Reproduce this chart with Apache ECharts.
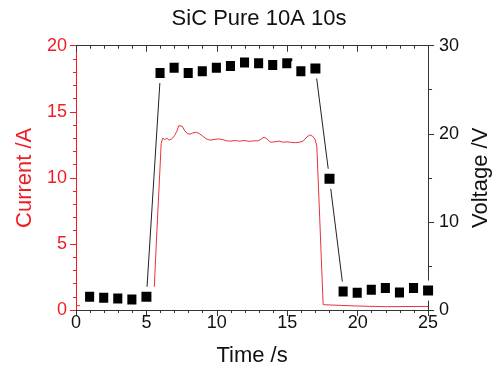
<!DOCTYPE html>
<html>
<head>
<meta charset="utf-8">
<script src="https://cdn.jsdelivr.net/npm/echarts@6/dist/echarts.min.js"></script>
<style>html,body{margin:0;padding:0;background:#fff}#c{width:500px;height:372px}</style>
</head>
<body>
<div id="c"></div>
<script>
const titleText = 'SiC Pure 10A 10s';
const xName = 'Time /s';
const yLeftName = 'Current /A';
const yRightName = 'Voltage /V';

// Voltage (scatter + line), one point per second
const voltTime = [1,2,3,4,5,6,7,8,9,10,11,12,13,14,15,16,17,18,19,20,21,22,23,24,25];
const voltValues = [1.5,1.4,1.3,1.2,1.5,26.9,27.5,26.9,27.1,27.5,27.7,28.1,28.0,27.8,28.0,27.1,27.4,14.9,2.1,1.95,2.3,2.5,2.0,2.5,2.2];

// Current trace
const curTime = [0,2,4,5.5,5.55,5.7,6.05,6.15,6.3,6.45,6.6,6.8,7.0,7.15,7.3,7.42,7.55,7.7,7.9,8.1,8.3,8.55,8.75,9.0,9.25,9.5,9.8,10.1,10.4,10.7,11.0,11.3,11.6,12.0,12.3,12.6,12.9,13.1,13.35,13.55,13.8,14.1,14.4,14.7,15.0,15.3,15.6,15.9,16.15,16.4,16.6,16.8,16.98,17.1,17.3,17.55,17.6,20,22,25];
const curValues = [0.33,0.33,0.32,0.33,0.35,5.0,12.6,13.0,12.9,13.0,12.85,12.95,13.2,13.5,13.95,14.1,13.9,13.6,13.35,13.3,13.4,13.45,13.35,13.15,12.95,12.85,12.9,12.95,12.9,12.8,12.78,12.82,12.78,12.82,12.76,12.8,12.8,12.9,13.08,12.95,12.7,12.72,12.78,12.7,12.72,12.68,12.66,12.7,12.8,13.1,13.25,13.15,12.9,12.4,7.1,0.4,0.28,0.3,0.25,0.27];

const RED = '#ee1c25';
const DARK = '#333333';
const FONT = '"Liberation Sans", Arial, sans-serif';

const chart = echarts.init(document.getElementById('c'), null, {renderer: 'canvas'});
chart.setOption({
  animation: false,
  backgroundColor: '#fff',
  title: {
    text: titleText, left: 254, top: 3, textAlign: 'center',
    textStyle: {fontFamily: FONT, fontSize: 22, fontWeight: 'normal', color: '#111'}
  },
  grid: {left: 76, right: 62.5, top: 45.7, bottom: 60.3, containLabel: false},
  xAxis: [{
    type: 'value', min: 0, max: 25, interval: 5, position: 'bottom',
    name: xName, nameLocation: 'middle', nameGap: 35,
    nameTextStyle: {fontFamily: FONT, fontSize: 22, color: '#111'},
    axisLine: {show: true, onZero: false, lineStyle: {color: DARK, width: 1}},
    axisTick: {show: true, inside: false, length: 6, lineStyle: {color: DARK}},
    minorTick: {show: true, splitNumber: 5, length: 3, lineStyle: {color: DARK}},
    axisLabel: {margin: 4, fontFamily: FONT, fontSize: 18, color: '#111'},
    splitLine: {show: false}
  }, {
    type: 'value', min: 0, max: 25, interval: 5, position: 'top',
    axisLine: {show: true, onZero: false, lineStyle: {color: DARK, width: 1}},
    axisTick: {show: true, inside: true, length: 6, lineStyle: {color: DARK}},
    minorTick: {show: true, splitNumber: 5, length: 3, lineStyle: {color: DARK}},
    axisLabel: {show: false},
    splitLine: {show: false}
  }],
  yAxis: [{
    type: 'value', min: 0, max: 20, interval: 5, position: 'left',
    name: yLeftName, nameLocation: 'middle', nameGap: 40, nameRotate: 90,
    nameTextStyle: {fontFamily: FONT, fontSize: 22, color: RED},
    axisLine: {show: true, onZero: false, lineStyle: {color: RED, width: 1}},
    axisTick: {show: true, inside: false, length: 6, lineStyle: {color: RED}},
    minorTick: {show: true, splitNumber: 5, length: 3, lineStyle: {color: RED}},
    axisLabel: {margin: 9, fontFamily: FONT, fontSize: 18, color: RED},
    splitLine: {show: false}
  }, {
    type: 'value', min: 0, max: 30, interval: 10, position: 'right',
    name: yRightName, nameLocation: 'middle', nameGap: 41, nameRotate: 90,
    nameTextStyle: {fontFamily: FONT, fontSize: 22, color: '#111'},
    axisLine: {show: true, onZero: false, lineStyle: {color: DARK, width: 1}},
    axisTick: {show: true, inside: false, length: 6, lineStyle: {color: DARK}},
    minorTick: {show: true, splitNumber: 2, length: 4, lineStyle: {color: DARK}},
    axisLabel: {margin: 11, fontFamily: FONT, fontSize: 18, color: '#111'},
    splitLine: {show: false}
  }],
  series: [{
    name: 'Current', type: 'line', xAxisIndex: 0, yAxisIndex: 0,
    showSymbol: false, symbol: 'none',
    lineStyle: {color: '#e8323a', width: 1},
    data: curTime.map((t, i) => [t, curValues[i]]),
    z: 2
  }, {
    name: 'Voltage', type: 'line', xAxisIndex: 0, yAxisIndex: 1,
    symbol: 'rect', symbolSize: 15, showSymbol: true,
    itemStyle: {color: '#000', borderColor: '#fff', borderWidth: 5},
    lineStyle: {color: '#222', width: 1},
    data: voltTime.map((t, i) => [t, voltValues[i]]),
    z: 3
  }]
});
</script>
</body>
</html>
